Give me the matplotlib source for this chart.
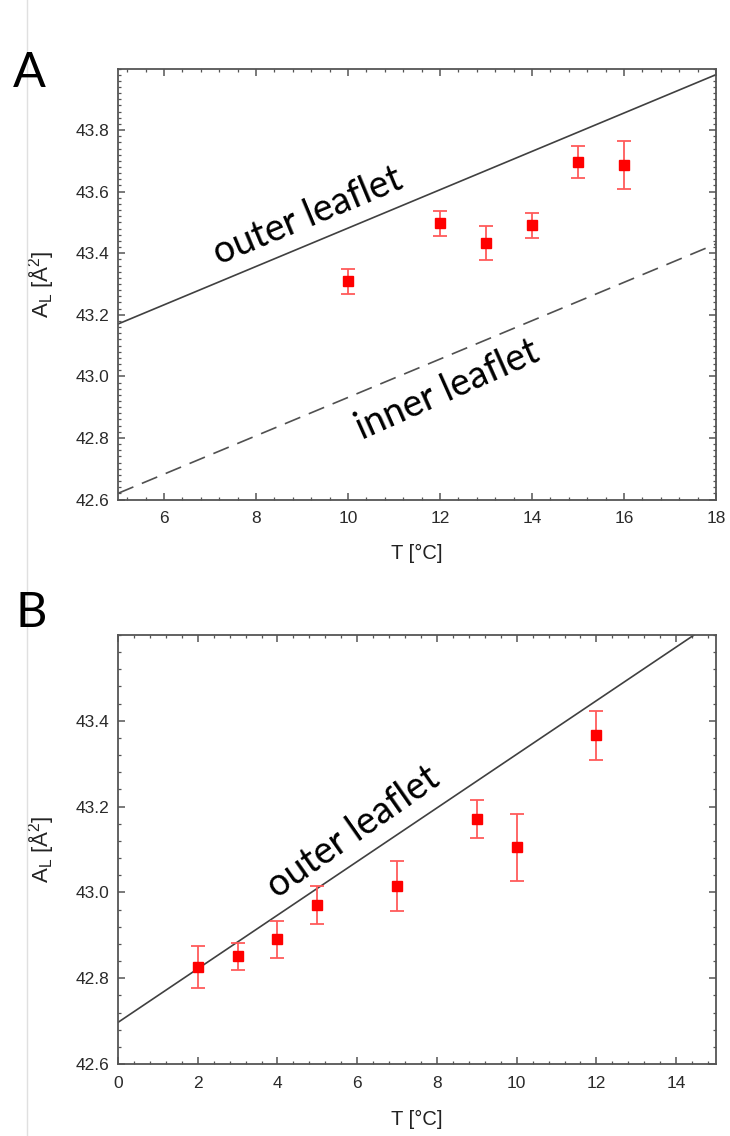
import numpy as np
import matplotlib
matplotlib.use('Agg')
import matplotlib.pyplot as plt
from matplotlib.ticker import MultipleLocator
from matplotlib.lines import Line2D

# panel A data
tA = [10, 12, 13, 14, 15, 16]
aA = [43.309, 43.497, 43.434, 43.491, 43.696, 43.687]
eA = [0.041, 0.040, 0.055, 0.040, 0.053, 0.077]
outerA = [43.17, 43.98]   # at T = 5 and 18
innerA = [42.62, 43.43]
lineA_T = [5, 18]

# panel B data
tB = [2, 3, 4, 5, 7, 9, 10, 12]
aB = [42.825, 42.851, 42.891, 42.971, 43.015, 43.171, 43.105, 43.366]
eB = [0.049, 0.032, 0.043, 0.045, 0.058, 0.044, 0.078, 0.057]
lineB_T = [0, 14.45]
outerB = [42.697, 43.6]

plt.rcParams['font.family'] = ['Liberation Sans', 'DejaVu Sans']
plt.rcParams['mathtext.default'] = 'regular'

W, H = 730, 1136
fig = plt.figure(figsize=(W / 100, H / 100), dpi=100)

axA = fig.add_axes([118 / W, 1 - 499.5 / H, 598 / W, 431 / H])
axB = fig.add_axes([118 / W, 1 - 1064 / H, 598 / W, 429 / H])

err_kw = dict(fmt='s', color='#ff0000', ms=7.5, ecolor='#ff5a5a', elinewidth=1.3,
              capsize=4.7, capthick=1.3, zorder=3)

axA.plot(lineA_T, outerA, color='#404040', lw=1.2)
axA.plot(lineA_T, innerA, color='#505050', lw=1.2, dashes=(10, 5.5))
axA.errorbar(tA, aA, yerr=eA, **err_kw)
axA.set_xlim(5, 18)
axA.set_ylim(42.6, 44.0)
axA.set_xticks(np.arange(6, 18.1, 2))
axA.set_yticks(np.arange(42.6, 43.81, 0.2))
axA.xaxis.set_minor_locator(MultipleLocator(0.4))
axA.yaxis.set_minor_locator(MultipleLocator(0.02))

axB.plot(lineB_T, outerB, color='#404040', lw=1.2)
axB.errorbar(tB, aB, yerr=eB, **err_kw)
axB.set_xlim(0, 15)
axB.set_ylim(42.6, 43.6)
axB.set_xticks(np.arange(0, 14.1, 2))
axB.set_yticks(np.arange(42.6, 43.41, 0.2))
axB.xaxis.set_minor_locator(MultipleLocator(0.4))
axB.yaxis.set_minor_locator(MultipleLocator(0.04))

for ax in (axA, axB):
    ax.xaxis.set_major_formatter(plt.FormatStrFormatter('%g'))
    ax.yaxis.set_major_formatter(plt.FormatStrFormatter('%.1f'))
    for s in ax.spines.values():
        s.set_color('#555555')
        s.set_linewidth(1.3)
    ax.tick_params(which='both', direction='in', top=True, right=True,
                   color='#555555', labelcolor='#2a2a2a', labelsize=12.5)
    ax.tick_params(which='major', length=5, width=1.1)
    ax.tick_params(axis='x', which='major', pad=8.5)
    ax.tick_params(axis='y', which='major', pad=6)
    ax.tick_params(which='minor', length=2.5, width=0.9)
    ax.set_xlabel('T [°C]', fontsize=14.5, color='#222222')
    ax.set_ylabel('A$_L$ [Å$^2$]', fontsize=16, color='#222222')
    ax.yaxis.set_label_coords(-0.104, 0.5)
axA.xaxis.set_label_coords(0.5, -0.104)
axB.xaxis.set_label_coords(0.5, -0.106)

lab_kw = dict(family=['Lato', 'DejaVu Sans'], fontsize=27, color='black',
              ha='center', va='center', rotation_mode='anchor')
axA.text(9.12, 43.522, 'outer leaflet', rotation=22.6, **lab_kw)
axA.text(12.15, 42.955, 'inner leaflet', rotation=24, **lab_kw)
axB.text(5.91, 43.14, 'outer leaflet', rotation=35, **lab_kw)

fig.text(13 / W, 1 - 87 / H, 'A', family=['Lato', 'DejaVu Sans'], fontsize=35)
fig.text(15 / W, 1 - 627 / H, 'B', family=['Lato', 'DejaVu Sans'], fontsize=35)
fig.add_artist(Line2D([27 / W, 27 / W], [0, 1], transform=fig.transFigure,
                      color='#e0e0e0', lw=1))

fig.savefig('out.png', dpi=100)
